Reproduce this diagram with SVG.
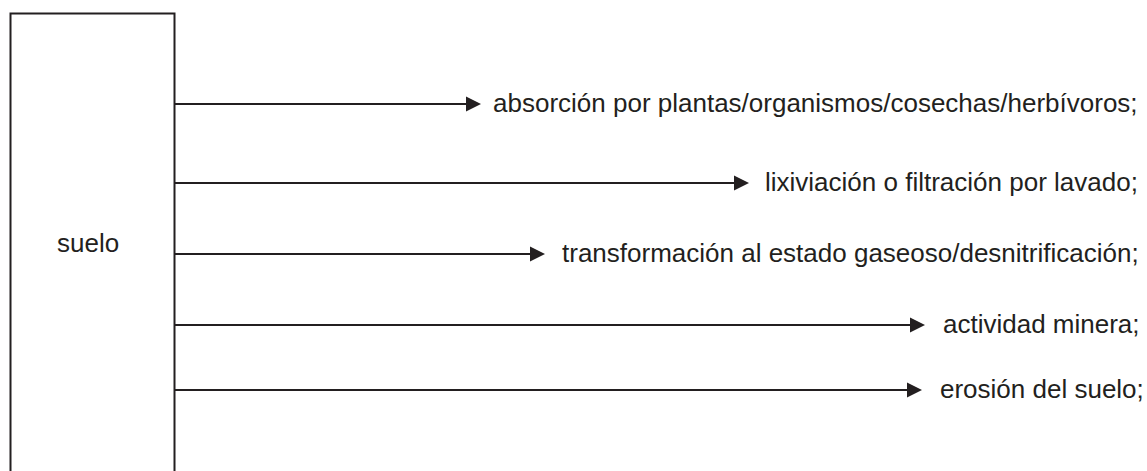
<svg xmlns="http://www.w3.org/2000/svg" width="1147" height="471" viewBox="0 0 1147 471">
<defs>
<style>
.box{fill:#fff;stroke:#231f20;stroke-width:2}
.ln{stroke:#231f20;stroke-width:2;fill:none}
.hd{fill:#231f20}
.t{font-family:"Liberation Sans",Arial,sans-serif;font-size:26px;fill:#231f20}
</style>
</defs>
<rect width="1147" height="471" fill="#fff"/>
<g id="suelo">
<rect class="box" x="10.5" y="13.5" width="164" height="480"/>
<text class="t" x="57" y="252">suelo</text>
</g>
<g id="connectors">
<line class="ln" x1="175" y1="104" x2="468" y2="104"/><polygon class="hd" points="466,96.5 481,104 466,111.5"/>
<line class="ln" x1="175" y1="183" x2="736" y2="183"/><polygon class="hd" points="734,175.5 749,183 734,190.5"/>
<line class="ln" x1="175" y1="254" x2="532" y2="254"/><polygon class="hd" points="530,246.5 545,254 530,261.5"/>
<line class="ln" x1="175" y1="325" x2="912" y2="325"/><polygon class="hd" points="910,317.5 925,325 910,332.5"/>
<line class="ln" x1="175" y1="390" x2="909" y2="390"/><polygon class="hd" points="907,382.5 922,390 907,397.5"/>
</g>
<g id="labels">
<text class="t" x="493" y="112">absorción por plantas/organismos/cosechas/herbívoros;</text>
<text class="t" x="765" y="191">lixiviación o filtración por lavado;</text>
<text class="t" x="562" y="262">transformación al estado gaseoso/desnitrificación;</text>
<text class="t" x="943" y="333">actividad minera;</text>
<text class="t" x="940" y="398">erosión del suelo;</text>
</g>
</svg>
